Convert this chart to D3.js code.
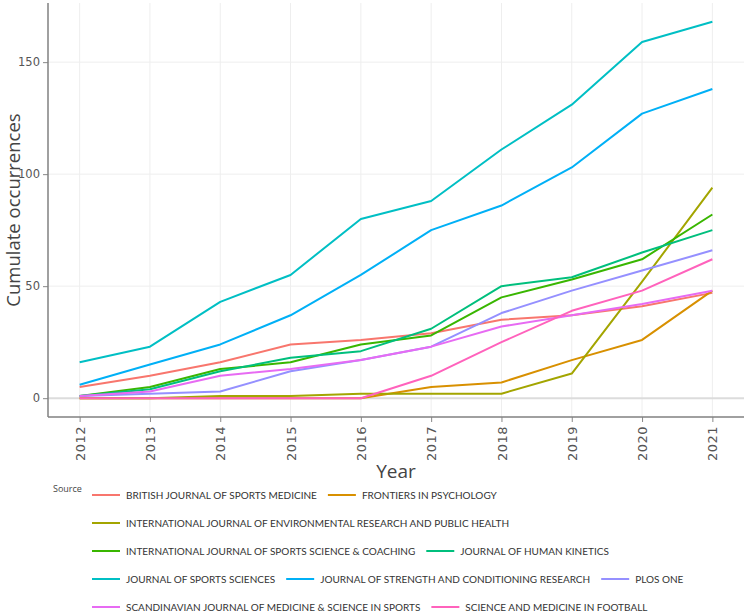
<!DOCTYPE html>
<html>
<head>
<meta charset="utf-8">
<script src="https://cdn.jsdelivr.net/npm/d3@7"></script>
<style>
  html, body { margin: 0; padding: 0; background: #fff; }
  svg { display: block; }
</style>
</head>
<body>
<svg id="chart" width="746" height="613"></svg>
<script>
const years = [2012, 2013, 2014, 2015, 2016, 2017, 2018, 2019, 2020, 2021];
const sources = [
  "BRITISH JOURNAL OF SPORTS MEDICINE",
  "FRONTIERS IN PSYCHOLOGY",
  "INTERNATIONAL JOURNAL OF ENVIRONMENTAL RESEARCH AND PUBLIC HEALTH",
  "INTERNATIONAL JOURNAL OF SPORTS SCIENCE & COACHING",
  "JOURNAL OF HUMAN KINETICS",
  "JOURNAL OF SPORTS SCIENCES",
  "JOURNAL OF STRENGTH AND CONDITIONING RESEARCH",
  "PLOS ONE",
  "SCANDINAVIAN JOURNAL OF MEDICINE & SCIENCE IN SPORTS",
  "SCIENCE AND MEDICINE IN FOOTBALL"
];
const colors = ["#F8766D", "#D89000", "#A3A500", "#39B600", "#00BF7D", "#00BFC4", "#00B0F6", "#9590FF", "#E76BF3", "#FF62BC"];

const britishJSM   = [5, 10, 16, 24, 26, 29, 35, 37, 41, 47];
const frontiers    = [0, 0, 0, 0, 0, 5, 7, 17, 26, 48];
const ijerph       = [0, 0, 1, 1, 2, 2, 2, 11, 52, 94];
const ijssc        = [1, 5, 13, 16, 24, 28, 45, 53, 62, 82];
const jhk          = [1, 4, 12, 18, 21, 31, 50, 54, 65, 75];
const jss          = [16, 23, 43, 55, 80, 88, 111, 131, 159, 168];
const jscr         = [6, 15, 24, 37, 55, 75, 86, 103, 127, 138];
const plosOne      = [1, 2, 3, 12, 17, 23, 38, 48, 57, 66];
const scandJMSS    = [1, 3, 10, 13, 17, 23, 32, 37, 42, 48];
const sciMedFootball = [0, 0, 0, 0, 0, 10, 25, 39, 48, 62];

const seriesValues = [britishJSM, frontiers, ijerph, ijssc, jhk, jss, jscr, plosOne, scandJMSS, sciMedFootball];
const yTicks = [0, 50, 100, 150];

const series = sources.map((name, i) => ({
  name, color: colors[i],
  points: years.map((yr, j) => ({ year: yr, value: seriesValues[i][j] }))
}));

const svg = d3.select("#chart");
const plot = { left: 48, right: 744, top: 3, bottom: 417 };

const yMax = d3.max(seriesValues.flat());
const yMin = 0;
const yPad = (yMax - yMin) * 0.05;
const y = d3.scaleLinear().domain([yMin - yPad, yMax + yPad]).range([plot.bottom, plot.top]);
const xPad = (d3.max(years) - d3.min(years)) * 0.05;
const x = d3.scaleLinear().domain([d3.min(years) - xPad, d3.max(years) + xPad]).range([plot.left, plot.right]);

// grid
const grid = svg.append("g");
grid.selectAll("line.vg").data(years).join("line")
  .attr("x1", d => x(d)).attr("x2", d => x(d))
  .attr("y1", plot.top).attr("y2", plot.bottom)
  .attr("stroke", "#eeeeee").attr("stroke-width", 1);
grid.selectAll("line.hg").data(yTicks.filter(d => d !== 0)).join("line")
  .attr("x1", plot.left).attr("x2", plot.right)
  .attr("y1", d => y(d)).attr("y2", d => y(d))
  .attr("stroke", "#eeeeee").attr("stroke-width", 1);
// zero line
grid.append("line")
  .attr("x1", plot.left).attr("x2", plot.right)
  .attr("y1", y(0)).attr("y2", y(0))
  .attr("stroke", "#dcdcdc").attr("stroke-width", 2);

// lines
const line = d3.line().x(d => x(d.year)).y(d => y(d.value));
svg.append("g").selectAll("path").data(series).join("path")
  .attr("d", d => line(d.points))
  .attr("fill", "none")
  .attr("stroke", d => d.color)
  .attr("stroke-width", 2)
  .attr("stroke-linejoin", "round");

// axes
const yAxis = d3.axisLeft(y).tickValues(yTicks).tickSize(5).tickPadding(3).tickSizeOuter(0);
const gy = svg.append("g").attr("transform", `translate(${plot.left},0)`).call(yAxis);
gy.select(".domain").remove();
gy.selectAll(".tick line").attr("stroke", "#888");
gy.selectAll(".tick text").attr("fill", "#555").style("font-family", "'DejaVu Sans', sans-serif").style("font-size", "11.5px");

const xAxis = d3.axisBottom(x).tickValues(years).tickFormat(d3.format("d")).tickSize(5).tickSizeOuter(0);
const gx = svg.append("g").attr("transform", `translate(0,${plot.bottom})`).call(xAxis);
gx.select(".domain").remove();
gx.selectAll(".tick line").attr("stroke", "#888");
gx.selectAll(".tick text")
  .attr("fill", "#555")
  .style("font-family", "'DejaVu Sans', sans-serif").style("font-size", "13px")
  .attr("transform", "rotate(-90)")
  .attr("text-anchor", "end")
  .attr("x", -9).attr("y", 0).attr("dy", "0.35em")
  .style("letter-spacing", "0.5px");

// axis lines
svg.append("line").attr("x1", plot.left).attr("x2", plot.left).attr("y1", plot.top).attr("y2", plot.bottom)
  .attr("stroke", "#808080").attr("stroke-width", 1.5);
svg.append("line").attr("x1", plot.left).attr("x2", plot.right).attr("y1", plot.bottom).attr("y2", plot.bottom)
  .attr("stroke", "#808080").attr("stroke-width", 1.5);

// axis titles
svg.append("text")
  .attr("transform", `translate(19.5,${(plot.top + plot.bottom) / 2}) rotate(-90)`)
  .attr("text-anchor", "middle")
  .style("font-family", "'Open Sans', sans-serif").style("font-size", "18.5px")
  .attr("fill", "#444")
  .text("Cumulate occurrences");
svg.append("text")
  .attr("x", (plot.left + plot.right) / 2).attr("y", 478)
  .attr("text-anchor", "middle")
  .style("font-family", "'Open Sans', sans-serif").style("font-size", "19px")
  .attr("fill", "#444")
  .text("Year");

// legend
svg.append("text").attr("x", 53).attr("y", 492)
  .style("font-family", "'Open Sans', sans-serif").style("font-size", "9px")
  .attr("fill", "#444").text("Source");

const legend = svg.append("g");
let lx = 92, row = 0;
const rowY0 = 495, rowH = 28, maxX = 740;
series.forEach(s => {
  const g = legend.append("g");
  const t = g.append("text")
    .attr("x", 34).attr("y", 0).attr("dy", "0.35em")
    .style("font-family", "Lato, sans-serif").style("font-size", "10px")
    .attr("fill", "#333").text(s.name);
  const w = 34 + t.node().getComputedTextLength();
  if (lx > 92 && lx + w > maxX) { row += 1; lx = 92; }
  g.attr("transform", `translate(${lx},${rowY0 + row * rowH})`);
  g.append("line").attr("x1", 0).attr("x2", 28).attr("y1", 0).attr("y2", 0)
    .attr("stroke", s.color).attr("stroke-width", 2);
  lx += w + 11;
});
</script>
</body>
</html>
